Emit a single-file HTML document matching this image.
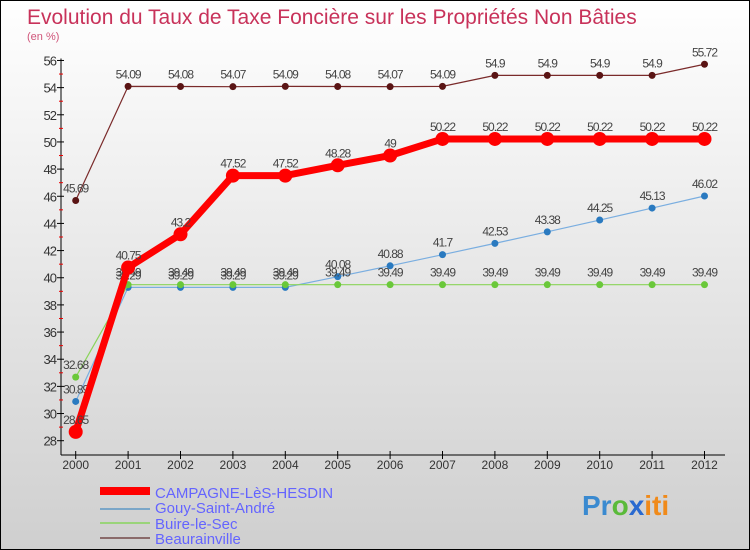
<!DOCTYPE html>
<html><head><meta charset="utf-8"><style>
body{margin:0}
svg{display:block;font-family:"Liberation Sans",sans-serif}
</style></head><body>
<svg id="c" width="750" height="550" viewBox="0 0 750 550">
<defs><linearGradient id="bg" x1="0" y1="0" x2="0" y2="1"><stop offset="0" stop-color="#ffffff"/><stop offset="1" stop-color="#cfcfcf"/></linearGradient></defs>
<rect x="0.5" y="0.5" width="749" height="549" fill="url(#bg)" stroke="#000"/>
<text x="27" y="24" font-size="21" fill="#c8325a">Evolution du Taux de Taxe Foncière sur les Propriétés Non Bâties</text>
<text x="27" y="40" font-size="11" fill="#d0557a">(en %)</text>
<g id="axes"></g>
<g id="series"></g>
<g id="legend">
<rect x="100" y="487" width="50" height="8" fill="#f00"/>
<text x="155" y="498" font-size="15" fill="#6464ff">CAMPAGNE-LèS-HESDIN</text>
<rect x="100" y="508" width="50" height="2" fill="#7aa6c8"/>
<text x="155" y="513" font-size="15" fill="#6464ff">Gouy-Saint-André</text>
<rect x="100" y="522" width="50" height="2" fill="#9ad47a"/>
<text x="155" y="529" font-size="15" fill="#6464ff">Buire-le-Sec</text>
<rect x="100" y="537" width="50" height="2" fill="#8a6a6a"/>
<text x="155" y="544" font-size="15" fill="#6464ff">Beaurainville</text>
</g>
<g font-size="28" font-weight="bold">
<text x="582" y="515"><tspan fill="#3a8ad0">Pr</tspan><tspan fill="#5aba3a">o</tspan><tspan fill="#2a6ad0">x</tspan><tspan fill="#f08a1a">iti</tspan></text>
</g>
</svg>
<script>
const years=[2000,2001,2002,2003,2004,2005,2006,2007,2008,2009,2010,2011,2012];
const yTicks=[28,30,32,34,36,38,40,42,44,46,48,50,52,54,56];
const campagne=[28.65,40.75,43.2,47.52,47.52,48.28,49,50.22,50.22,50.22,50.22,50.22,50.22];
const gouy=[30.89,39.29,39.29,39.29,39.29,40.08,40.88,41.7,42.53,43.38,44.25,45.13,46.02];
const buire=[32.68,39.49,39.49,39.49,39.49,39.49,39.49,39.49,39.49,39.49,39.49,39.49,39.49];
const beau=[45.69,54.09,54.08,54.07,54.09,54.08,54.07,54.09,54.9,54.9,54.9,54.9,55.72];
const NS="http://www.w3.org/2000/svg";
const x=i=>75.7+i*52.4;
const y=v=>440.7-(v-28)*13.58;
function mk(t,a,p){const e=document.createElementNS(NS,t);for(const k in a)e.setAttribute(k,a[k]);p.appendChild(e);return e;}
const ax=document.getElementById('axes');
let l=mk('line',{x1:61,y1:y(56)-2,x2:61,y2:455,stroke:'#000'},ax);


l=mk('line',{x1:61,y1:455,x2:725,y2:455,stroke:'#000'},ax);


yTicks.forEach(v=>{
 mk('line',{x1:57,y1:y(v),x2:64,y2:y(v),stroke:'#000'},ax);
 if(v<56) mk('line',{x1:59,y1:y(v+1),x2:63,y2:y(v+1),stroke:'#e00'},ax);
 const t=mk('text',{x:56,y:y(v)+5,'font-size':13,'text-anchor':'end',fill:'#333','letter-spacing':'-1'},ax);
 t.textContent=v;
 
 
});
years.forEach((yr,i)=>{
 mk('line',{x1:x(i),y1:451,x2:x(i),y2:459,stroke:'#000'},ax);
 const t=mk('text',{x:x(i),y:469,'font-size':12,'text-anchor':'middle',fill:'#333'},ax);
 t.textContent=yr;
 
 
});
const sg=document.getElementById('series');
function draw(vals,color,w,r,dot,name){
 const g=mk('g',{},sg);
 
 
 mk('polyline',{points:vals.map((v,i)=>x(i)+','+y(v)).join(' '),fill:'none',stroke:color,'stroke-width':w,'stroke-linejoin':'round'},g);
 vals.forEach((v,i)=>{
  const c=mk('circle',{cx:x(i),cy:y(v),r:r,fill:dot},g);
  
  
  const t=mk('text',{x:x(i),y:y(v)-8,'font-size':12,'text-anchor':'middle',fill:'#444','letter-spacing':'-1'},g);
  t.textContent=v;
  
  
 });
}
draw(beau,'#7a2a2a',1.2,3.5,'#5a1414','beaurainville');
draw(gouy,'#7aaee0',1.2,3.5,'#2a7ac0','gouy');
draw(buire,'#8ad45a',1.2,3.5,'#6ac83a','buire');
draw(campagne,'#f00',7,7,'#f00','campagne');
</script>
</body></html>
